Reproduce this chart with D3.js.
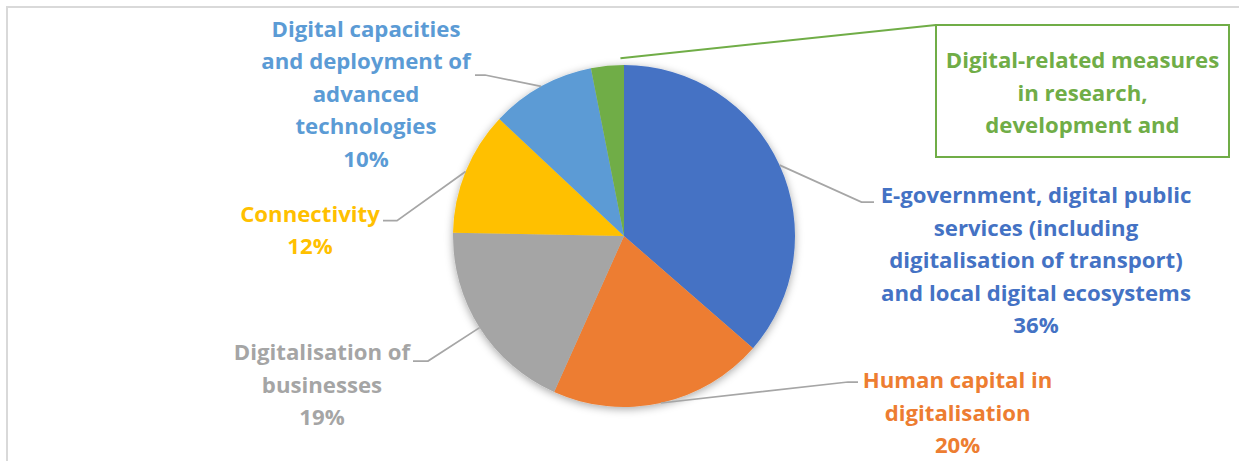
<!DOCTYPE html>
<html>
<head>
<meta charset="utf-8">
<script src="https://cdn.jsdelivr.net/npm/d3@7/dist/d3.min.js"></script>
<style>
  html, body { margin: 0; padding: 0; background: #fff; }
  svg { display: block; }
  text { font-family: "Open Sans", Lato, sans-serif; font-weight: 700; }
</style>
</head>
<body>
<svg id="chart" width="1239" height="461"></svg>
<script>
// ---- data ----
const categories = [
  "E-government, digital public services (including digitalisation of transport) and local digital ecosystems",
  "Human capital in digitalisation",
  "Digitalisation of businesses",
  "Connectivity",
  "Digital capacities and deployment of advanced technologies",
  "Digital-related measures in research, development and innovation"
];
const values = [36.4, 20.3, 18.6, 11.7, 9.9, 3.1];
const percentLabels = ["36%", "20%", "19%", "12%", "10%", ""];
const labelLines = [
  ["E-government, digital public", "services (including", "digitalisation of transport)", "and local digital ecosystems"],
  ["Human capital in", "digitalisation"],
  ["Digitalisation of", "businesses"],
  ["Connectivity"],
  ["Digital capacities", "and deployment of", "advanced", "technologies"],
  ["Digital-related measures", "in research,", "development and"]
];
const colors = ["#4472C4", "#ED7D31", "#A5A5A5", "#FFC000", "#5B9BD5", "#70AD47"];

// ---- layout (positions only) ----
const W = 1239, H = 461;
const cx = 624, cy = 236, R = 171;
const lineH = 32.5;
const fontSize = 22.2;
// label blocks: text centre x, first baseline y, elbow point, horizontal end point
const labelLayout = [
  { x: 1036, y: 203, elbow: [861.5, 202], end: [874, 202] },
  { x: 957.6, y: 388, elbow: [848, 382], end: [858, 382] },
  { x: 322, y: 360, elbow: [428, 361], end: [413, 361] },
  { x: 310, y: 221.7, elbow: [397, 220.7], end: [383, 220.7] },
  { x: 366, y: 36.7, elbow: [485, 75], end: [475, 75] },
  { x: 1082.5, y: 68, box: [936, 25, 1229, 157] }
];

const svg = d3.select("#chart");

// frame
svg.append("path")
  .attr("d", `M7,${H} L7,7 L${W},7`)
  .attr("fill", "none")
  .attr("stroke", "#d9d9d9")
  .attr("stroke-width", 2);

// shadow filter
const defs = svg.append("defs");
const f = defs.append("filter").attr("id", "shadow")
  .attr("x", "-20%").attr("y", "-20%").attr("width", "140%").attr("height", "140%");
f.append("feDropShadow").attr("dx", 0).attr("dy", 2).attr("stdDeviation", 4)
  .attr("flood-color", "#000").attr("flood-opacity", 0.35);

const pie = d3.pie().sort(null).value(d => d)(values);
const arc = d3.arc().innerRadius(0).outerRadius(R);

const g = svg.append("g").attr("transform", `translate(${cx},${cy})`);
g.append("g").attr("filter", "url(#shadow)")
  .selectAll("path")
  .data(pie)
  .join("path")
  .attr("d", arc)
  .attr("fill", (d, i) => colors[i]);

// leader lines & labels
pie.forEach((d, i) => {
  const L = labelLayout[i];
  const mid = (d.startAngle + d.endAngle) / 2;
  if (L.box) {
    const a = d.endAngle - 0.02;
    const rr = R * 1.04;
    const p0 = [cx + rr * Math.sin(a), cy - rr * Math.cos(a)];
    svg.append("line")
      .attr("x1", p0[0]).attr("y1", p0[1])
      .attr("x2", L.box[0]).attr("y2", L.box[1])
      .attr("stroke", colors[i]).attr("stroke-width", 2);
    svg.append("rect")
      .attr("x", L.box[0]).attr("y", L.box[1])
      .attr("width", L.box[2] - L.box[0]).attr("height", L.box[3] - L.box[1])
      .attr("fill", "#fff").attr("stroke", colors[i]).attr("stroke-width", 2);
  } else {
    const p0 = [cx + R * Math.sin(mid), cy - R * Math.cos(mid)];
    svg.append("path")
      .attr("d", d3.line()([p0, L.elbow, L.end]))
      .attr("fill", "none")
      .attr("stroke", "#A6A6A6")
      .attr("stroke-width", 1.75);
  }
  const lines = labelLines[i].concat(percentLabels[i] ? [percentLabels[i]] : []);
  const t = svg.append("text")
    .attr("text-anchor", "middle")
    .attr("fill", colors[i])
    .attr("font-size", fontSize);
  lines.forEach((ln, k) => {
    t.append("tspan")
      .attr("x", L.x)
      .attr("y", L.y + k * lineH)
      .text(ln);
  });
});
</script>
</body>
</html>
